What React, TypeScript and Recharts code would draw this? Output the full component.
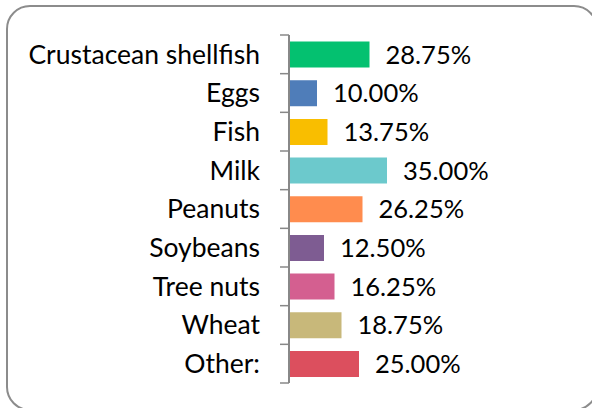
import React from "react"
import { Bar, BarChart, Cell, LabelList, XAxis, YAxis } from "recharts"

const CATEGORIES = [
  "Crustacean shellfish",
  "Eggs",
  "Fish",
  "Milk",
  "Peanuts",
  "Soybeans",
  "Tree nuts",
  "Wheat",
  "Other:",
]
const SHARES = [28.75, 10.0, 13.75, 35.0, 26.25, 12.5, 16.25, 18.75, 25.0]

const BAR_COLORS = [
  "#04c170",
  "#4f7db9",
  "#f9be00",
  "#6cc9cc",
  "#ff8c4e",
  "#7e5c92",
  "#d45f90",
  "#c8b87a",
  "#dc4f5e",
]

const data = CATEGORIES.map((name, i) => ({ name, share: SHARES[i] }))

const W = 592
const H = 408
const MARGIN = { top: 35, right: 23, bottom: 25, left: 0 }
const PLOT_H = H - MARGIN.top - MARGIN.bottom
const TICK_SIZE = 9
const TICK_MARGIN = 20
const FONT = "Lato, 'Open Sans', sans-serif"

function CategoryTick(props: any) {
  const { x, y, payload, index } = props
  const band = PLOT_H / CATEGORIES.length
  const axisX = x + TICK_SIZE + TICK_MARGIN
  const last = index === CATEGORIES.length - 1
  return (
    <g>
      <line x1={axisX - TICK_SIZE} x2={axisX} y1={y - band / 2} y2={y - band / 2} stroke="#888" strokeWidth={1.5} />
      {last && (
        <line x1={axisX - TICK_SIZE} x2={axisX} y1={y + band / 2} y2={y + band / 2} stroke="#888" strokeWidth={1.5} />
      )}
      <text x={x} y={y} dy="0.35em" textAnchor="end" fill="#000" fontSize={26.5} fontFamily={FONT}>
        {payload.value}
      </text>
    </g>
  )
}

export default function App() {
  return (
    <div style={{ position: "absolute", left: 0, top: 0, width: W, height: H, overflow: "hidden", background: "#fff" }}>
      <div
        style={{
          position: "absolute",
          left: 6,
          top: 5,
          width: 588,
          height: 402,
          border: "2px solid #8c8c8c",
          borderRadius: 24,
        }}
      />
      <div style={{ position: "absolute", left: 0, top: 0 }}>
        <BarChart width={W} height={H} data={data} layout="vertical" margin={MARGIN} barCategoryGap="17%">
          <XAxis type="number" domain={[0, 100]} hide />
          <YAxis
            type="category"
            dataKey="name"
            width={289}
            tickLine={false}
            tickSize={TICK_SIZE}
            tickMargin={TICK_MARGIN}
            axisLine={{ stroke: "#888", strokeWidth: 2 }}
            tick={<CategoryTick />}
            interval={0}
          />
          <Bar dataKey="share" isAnimationActive={false}>
            {data.map((d, i) => (
              <Cell key={d.name} fill={BAR_COLORS[i]} />
            ))}
            <LabelList
              dataKey="share"
              position="right"
              offset={16}
              fill="#000"
              fontSize={25.5}
              fontFamily={FONT}
              formatter={(v: any) => `${Number(v).toFixed(2)}%`}
            />
          </Bar>
        </BarChart>
      </div>
    </div>
  )
}
